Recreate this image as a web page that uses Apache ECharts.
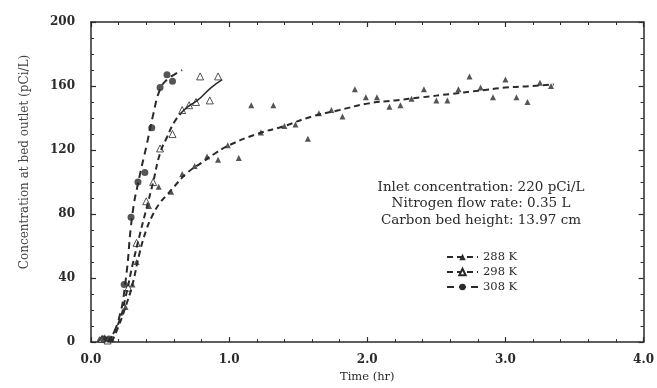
<!DOCTYPE html>
<html><head><meta charset="utf-8">
<script src="https://cdn.jsdelivr.net/npm/echarts@6/dist/echarts.min.js"></script>
<style>html,body{margin:0;padding:0;background:#fff}#c{width:657px;height:388px}</style>
</head><body><div id="c"></div>
<script>
// ---- data ----
const seriesNames = ['288 K', '298 K', '308 K'];
const pts288 = [[0.06,2],[0.10,3],[0.15,2],[0.25,22],[0.30,36],[0.33,50],[0.42,85],[0.49,97],[0.58,94],[0.66,105],[0.75,110],[0.84,116],[0.92,114],[0.99,123],[1.07,115],[1.16,148],[1.23,131],[1.32,148],[1.40,135],[1.48,136],[1.57,127],[1.65,143],[1.74,145],[1.82,141],[1.91,158],[1.99,153],[2.07,153],[2.16,147],[2.24,148],[2.32,152],[2.41,158],[2.50,151],[2.58,151],[2.66,158],[2.74,166],[2.82,159],[2.91,153],[3.00,164],[3.08,153],[3.16,150],[3.25,162],[3.33,160]];
const pts298 = [[0.08,2],[0.12,1],[0.27,34],[0.33,62],[0.40,88],[0.45,100],[0.50,121],[0.59,130],[0.66,145],[0.71,148],[0.76,150],[0.79,166],[0.86,151],[0.92,166]];
const pts308 = [[0.09,2],[0.13,2],[0.24,36],[0.29,78],[0.34,100],[0.39,106],[0.44,134],[0.50,159],[0.55,167],[0.59,163]];
const fit288 = [[0.15,0],[0.20,10],[0.25,22],[0.30,36],[0.35,55],[0.40,70],[0.45,80],[0.50,87],[0.55,92],[0.60,97],[0.70,106],[0.80,112],[0.90,118],[1.00,123],[1.20,130],[1.40,135],[1.60,141],[1.80,145],[2.00,149],[2.20,151],[2.40,153],[2.60,155],[2.80,157],[3.00,159],[3.20,160],[3.35,161]];
const fit298a = [[0.12,0],[0.20,12],[0.25,28],[0.30,48],[0.35,66],[0.40,83],[0.45,100],[0.50,118],[0.55,128],[0.60,137],[0.65,143]];
const fit298b = [[0.65,143],[0.70,147],[0.77,151],[0.87,159],[0.95,164]];
const fit308 = [[0.13,0],[0.20,14],[0.25,38],[0.30,80],[0.35,103],[0.40,122],[0.45,142],[0.50,158],[0.55,164],[0.60,167],[0.66,170]];
const notes = ['Inlet concentration: 220 pCi/L', 'Nitrogen flow rate: 0.35 L', 'Carbon bed height: 13.97 cm'];
const xTitle = 'Time (hr)';
const yTitle = 'Concentration at bed outlet (pCi/L)';

const ink = '#2a2a2a';
const font = 'DejaVu Serif';
const chart = echarts.init(document.getElementById('c'));
function axis(extra, split) {
  return Object.assign({
    type: 'value',
    axisLine: {onZero: false, lineStyle: {color: ink, width: 1.5}},
    axisTick: {inside: true, length: 5, lineStyle: {color: ink, width: 1.2}},
    minorTick: {show: true, splitNumber: split, length: 3, lineStyle: {color: ink}},
    splitLine: {show: false}
  }, extra);
}
chart.setOption({
  backgroundColor: '#fff',
  animation: false,
  grid: {left: 91, right: 13, top: 22, bottom: 45},
  xAxis: [
    axis({min: 0, max: 4, interval: 1, position: 'bottom',
      name: xTitle, nameLocation: 'middle', nameGap: 28,
      nameTextStyle: {fontFamily: font, fontSize: 11.5, color: ink},
      axisLabel: {formatter: v => v.toFixed(1), fontFamily: font, fontWeight: 'bold', fontSize: 12, color: ink, margin: 12}}, 5),
    axis({min: 0, max: 4, interval: 1, position: 'top', axisLabel: {show: false}}, 5)
  ],
  yAxis: [
    axis({min: 0, max: 200, interval: 40, position: 'left',
      axisLabel: {fontFamily: font, fontWeight: 'bold', fontSize: 12, color: ink, margin: 16}}, 4),
    axis({min: 0, max: 200, interval: 40, position: 'right', axisLabel: {show: false}}, 4)
  ],
  legend: {
    orient: 'vertical', left: 446, top: 251, itemGap: 3, itemWidth: 31, itemHeight: 8, padding: 0,
    data: seriesNames,
    textStyle: {fontFamily: font, fontSize: 11.5, color: ink, lineHeight: 12},
    selectedMode: false
  },
  graphic: notes.map((t, i) => ({type: 'text', x: 481, y: 187 + i * 16.5,
      style: {text: t, fill: ink, font: '13.5px "DejaVu Serif"', align: 'center', verticalAlign: 'middle'}}))
    .concat([{type: 'text', x: 25, y: 162, rotation: Math.PI / 2,
      style: {text: yTitle, fill: '#444', font: '12px "DejaVu Serif"', align: 'center', verticalAlign: 'middle'}}]),
  series: [
    {name: '288 K', type: 'line', data: fit288, showSymbol: false, symbol: 'triangle', symbolSize: 6, smooth: true,
      itemStyle: {color: ink}, lineStyle: {color: ink, width: 2, type: [6, 4]}},
    {name: '298 K', type: 'line', data: fit298a, showSymbol: false, symbol: 'emptyTriangle', symbolSize: 6, smooth: true,
      itemStyle: {color: ink}, lineStyle: {color: ink, width: 2, type: [6, 4]}},
    {name: '298b', type: 'line', data: fit298b, showSymbol: false, smooth: true,
      lineStyle: {color: ink, width: 1.5}},
    {name: '308 K', type: 'line', data: fit308, showSymbol: false, symbol: 'circle', symbolSize: 6, smooth: true,
      itemStyle: {color: ink}, lineStyle: {color: ink, width: 2, type: [7, 5]}},
    {name: 'p288', type: 'scatter', data: pts288, symbol: 'triangle', symbolSize: 6, itemStyle: {color: ink}},
    {name: 'p298', type: 'scatter', data: pts298, symbol: 'triangle', symbolSize: 7,
      itemStyle: {color: '#fff', borderColor: ink, borderWidth: 1}},
    {name: 'p308', type: 'scatter', data: pts308, symbol: 'circle', symbolSize: 7, itemStyle: {color: ink}}
  ]
});
</script></body></html>
